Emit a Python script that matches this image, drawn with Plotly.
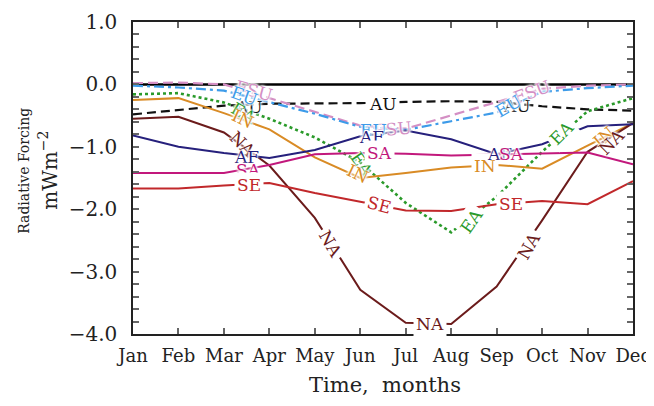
import plotly.graph_objects as go

months = ["Jan", "Feb", "Mar", "Apr", "May", "Jun", "Jul", "Aug", "Sep", "Oct", "Nov", "Dec"]
month_num = list(range(1, 13))

zero = [0.0] * 12
AU = [-0.48, -0.41, -0.34, -0.31, -0.31, -0.30, -0.28, -0.27, -0.28, -0.35, -0.40, -0.42]
FSU = [0.02, 0.03, 0.0, -0.22, -0.45, -0.66, -0.71, -0.50, -0.28, -0.07, -0.02, 0.0]
EU = [-0.02, -0.05, -0.10, -0.28, -0.47, -0.68, -0.73, -0.59, -0.45, -0.12, -0.06, -0.02]
EA = [-0.16, -0.14, -0.29, -0.55, -0.85, -1.25, -1.90, -2.37, -1.80, -1.08, -0.43, -0.22]
IN = [-0.25, -0.22, -0.46, -0.72, -1.17, -1.50, -1.42, -1.33, -1.29, -1.35, -0.98, -0.62]
NA = [-0.55, -0.52, -0.77, -1.30, -2.14, -3.29, -3.82, -3.84, -3.24, -2.18, -1.08, -0.62]
AF = [-0.82, -1.00, -1.10, -1.18, -1.05, -0.83, -0.74, -0.88, -1.12, -0.96, -0.67, -0.64]
SA = [-1.42, -1.42, -1.42, -1.29, -1.12, -1.10, -1.11, -1.14, -1.12, -1.10, -1.09, -1.28]
SE = [-1.67, -1.67, -1.62, -1.58, -1.74, -1.88, -2.02, -2.03, -1.92, -1.87, -1.92, -1.55]

# inline label positions: (month, value, angle, boxed)
labels_FSU = [(3.67, -0.11, 15, False), (6.73, -0.71, -5, False), (9.77, -0.12, -20, False)]
labels_EU = [(3.46, -0.18, 20, False), (6.29, -0.73, 0, False), (9.26, -0.35, -30, False)]
labels_AU = [(3.55, -0.37, 0, False), (6.51, -0.32, 0, True), (9.44, -0.34, 0, False)]
labels_EA = [(3.43, -0.46, 30, False), (6.03, -1.28, 55, False), (8.45, -2.19, -55, True), (10.43, -0.78, -45, True)]
labels_IN = [(3.43, -0.55, 25, False), (5.96, -1.43, 25, False), (8.74, -1.30, 0, True), (11.36, -0.84, -40, False)]
labels_NA = [(3.41, -0.95, 45, False), (5.35, -2.55, 60, True), (7.53, -3.84, 0, True), (9.71, -2.59, -60, True), (11.53, -0.93, -45, False)]
labels_AF = [(3.50, -1.16, 0, False), (6.25, -0.84, 0, False), (9.07, -1.11, 0, False)]
labels_SA = [(3.54, -1.37, 0, False), (6.42, -1.10, 0, True), (9.33, -1.11, 0, False)]
labels_SE = [(3.55, -1.62, 0, True), (6.42, -1.94, 15, True), (9.31, -1.91, 0, True)]

FONT = "DejaVu Serif"
HALO = "0 0 2px white, 0 0 2px white, 0 0 3px white, 0 0 3px white, 0 0 4px white"

series = [
    ("AU", AU, "#111111", "9px,5px", 2.2, labels_AU),
    ("FSU", FSU, "#d48fc4", "10px,5px", 2.2, labels_FSU),
    ("EU", EU, "#3d9be9", "10px,4px,3px,4px", 2.2, labels_EU),
    ("EA", EA, "#2a9a2a", "3px,3px", 2.6, labels_EA),
    ("IN", IN, "#d98b25", "solid", 2.0, labels_IN),
    ("NA", NA, "#6b1b1b", "solid", 2.0, labels_NA),
    ("AF", AF, "#26207c", "solid", 2.0, labels_AF),
    ("SA", SA, "#c2187c", "solid", 2.0, labels_SA),
    ("SE", SE, "#c1282b", "solid", 2.0, labels_SE),
]

fig = go.Figure()
fig.add_trace(go.Scatter(x=month_num, y=zero, mode="lines",
                         line=dict(color="black", width=2.5), showlegend=False, hoverinfo="skip"))
annotations = []
for name, vals, color, dash, width, labs in series:
    fig.add_trace(go.Scatter(x=month_num, y=vals, mode="lines", name=name,
                             line=dict(color=color, width=width, dash=dash),
                             showlegend=False))
    for (mx, my, ang, boxed) in labs:
        ann = dict(x=mx, y=my, xref="x", yref="y", text=name, showarrow=False,
                   textangle=ang, xanchor="center", yanchor="middle",
                   font=dict(family=FONT, size=17, color=color, shadow=HALO))
        if boxed:
            ann["bgcolor"] = "white"
            ann["borderpad"] = 2
        annotations.append(ann)

annotations += [
    dict(x=-0.218, y=0.523, xref="paper", yref="paper", text="Radiative Forcing", textangle=-90,
         xanchor="center", yanchor="middle",
         showarrow=False, font=dict(family=FONT, size=14, color="#222222")),
    dict(x=-0.17, y=0.523, xref="paper", yref="paper", text="mWm<sup>−2</sup>", textangle=-90,
         xanchor="center", yanchor="middle",
         showarrow=False, font=dict(family=FONT, size=20, color="#222222")),
    dict(x=0.504, y=-0.162, xref="paper", yref="paper", text="Time,  months",
         xanchor="center", yanchor="middle",
         showarrow=False, font=dict(family=FONT, size=21, color="#222222")),
]

fig.update_layout(
    width=646, height=390,
    margin=dict(l=125, r=21, t=14, b=64, autoexpand=False),
    plot_bgcolor="white", paper_bgcolor="white",
    annotations=annotations,
    xaxis=dict(range=[1, 12], tickvals=month_num, ticktext=months, automargin=False,
               ticklabeloverflow="allow",
               ticks="inside", ticklen=6, tickcolor="#666666", tickwidth=1.5,
               showline=True, linecolor="#222222", linewidth=1.5, mirror="ticks",
               showgrid=False, zeroline=False, ticklabelstandoff=5,
               tickfont=dict(family=FONT, size=18, color="#222222")),
    yaxis=dict(range=[-4, 1], dtick=1, tick0=0, tickformat=".1f", automargin=False,
               ticks="inside", ticklen=6, tickcolor="#666666", tickwidth=1.5,
               minor=dict(dtick=0.2, ticks="inside", ticklen=6, tickcolor="#666666", tickwidth=1.5),
               showline=True, linecolor="#222222", linewidth=1.5, mirror="ticks",
               showgrid=False, zeroline=False, ticklabelstandoff=10,
               tickfont=dict(family=FONT, size=20, color="#222222")),
)

fig.write_html("out.html")
